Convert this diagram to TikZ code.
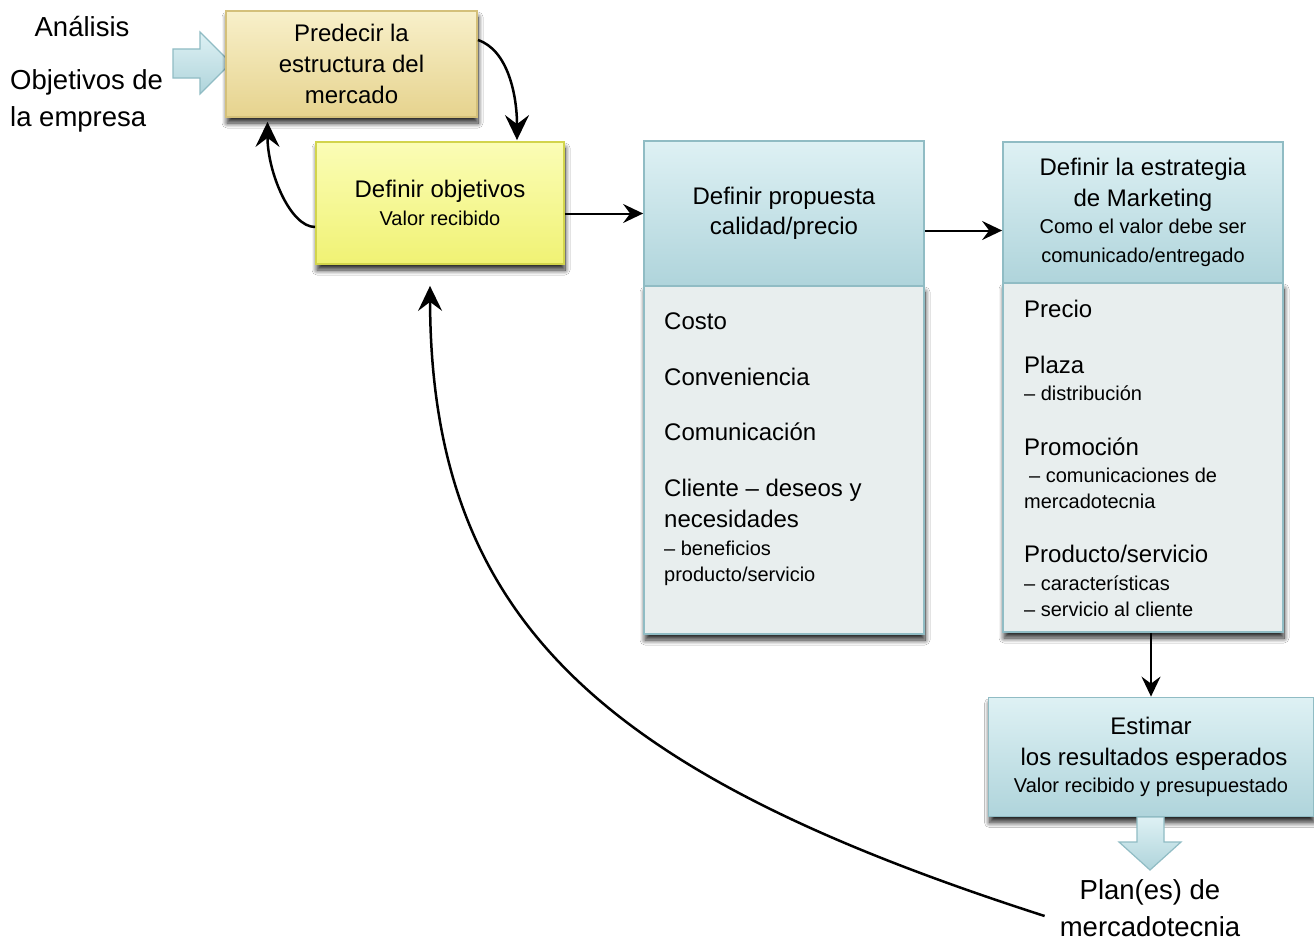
\documentclass[tikz,border=0pt]{standalone}
\usepackage{fontspec}
\setmainfont{Liberation Sans}
\usetikzlibrary{arrows.meta,shadows.blur}

\definecolor{sandTop}{HTML}{F8F0CA}
\definecolor{sandBot}{HTML}{E6D38E}
\definecolor{sandLine}{HTML}{D4C07A}
\definecolor{limeTop}{HTML}{FBFDB6}
\definecolor{limeBot}{HTML}{F0F274}
\definecolor{limeLine}{HTML}{D2D44C}
\definecolor{aquaTop}{HTML}{DEF1F4}
\definecolor{aquaBot}{HTML}{AFD4DB}
\definecolor{aquaLine}{HTML}{90BCC4}
\definecolor{paleBody}{HTML}{E8EEEE}

\tikzset{
  shadowed/.style={blur shadow={shadow xshift=1pt,shadow yshift=-6pt,
      shadow blur radius=5pt,shadow opacity=85,shadow blur steps=12}},
  bigfont/.style={font=\fontsize{24}{31}\selectfont},
  smallfont/.style={font=\fontsize{20}{27}\selectfont},
  labelfont/.style={font=\fontsize{27.5}{37}\selectfont},
  sandbox/.style={shadowed,draw=sandLine,line width=1.8pt,top color=sandTop,
      bottom color=sandBot,inner sep=0pt,align=center,bigfont},
  limebox/.style={shadowed,draw=limeLine,line width=1.8pt,top color=limeTop,
      bottom color=limeBot,inner sep=0pt,align=center,bigfont},
  aquahead/.style={draw=aquaLine,line width=1.8pt,top color=aquaTop,
      bottom color=aquaBot,inner sep=0pt,align=center,bigfont},
  aquabody/.style={shadowed,draw=aquaLine,line width=1.8pt,fill=paleBody,inner sep=0pt},
  item/.style={anchor=base west,inner sep=0pt,bigfont},
  subitem/.style={anchor=base west,inner sep=0pt,smallfont},
  conn/.style={line width=2pt,-{Stealth[length=20pt,width=19pt,inset=7pt]}},
  loopconn/.style={line width=2.5pt,-{Stealth[length=25pt,width=24pt,inset=9pt]}},
  blockarrow/.style={draw=aquaLine,line width=1.2pt,top color=aquaTop,bottom color=aquaBot},
}

\begin{document}
\begin{tikzpicture}[x=1pt,y=-1pt]
\useasboundingbox[fill=white] (0,0) rectangle (1314,942);

% side labels
\node[labelfont,inner sep=0pt,anchor=base] (analisis) at (82,37) {Análisis};
\node[labelfont,inner sep=0pt,anchor=base west] (objA) at (10,89) {Objetivos de};
\node[labelfont,inner sep=0pt,anchor=base west] (objB) at (10,126) {la empresa};

% input block arrow
\path[blockarrow] (173,49) -- (200,49) -- (200,32) -- (231,63) -- (200,94)
  -- (200,78) -- (173,78) -- cycle;

% upper boxes
\node[sandbox,minimum width=251,minimum height=106] (pred) at (351.5,64)
  {Predecir la\\estructura del\\mercado};
\node[limebox,minimum width=248,minimum height=122] (obj) at (440,203)
  {Definir objetivos\\[-3pt]{\fontsize{20}{27}\selectfont Valor recibido}};

% value proposition column
\node[aquabody,minimum width=280,minimum height=348] (propbody) at (784,460) {};
\node[aquahead,minimum width=280,minimum height=145] (prophead) at (784,213.5)
  {Definir propuesta\\[-1pt]calidad/precio};
\node[item] (c1) at (664,329) {Costo};
\node[item] (c2) at (664,385) {Conveniencia};
\node[item] (c3) at (664,440) {Comunicación};
\node[item] (c4) at (664,496) {Cliente – deseos y};
\node[item] (c5) at (664,527) {necesidades};
\node[subitem] (c6) at (664,555) {– beneficios};
\node[subitem] (c7) at (664,581) {producto/servicio};

% marketing strategy column
\node[aquabody,minimum width=280,minimum height=349] (estbody) at (1143,457.5) {};
\node[aquahead,minimum width=280,minimum height=141] (esthead) at (1143,212.5)
  {Definir la estrategia\\de Marketing\\[-4pt]%
   {\fontsize{20}{27}\selectfont Como el valor debe ser}\\[-2pt]
   {\fontsize{20}{27}\selectfont comunicado/entregado}};
\node[item] (e1) at (1024,317) {Precio};
\node[item] (e2) at (1024,373) {Plaza};
\node[subitem] (e3) at (1024,400) {– distribución};
\node[item] (e4) at (1024,455) {Promoción};
\node[subitem] (e5) at (1024,482) {\hspace{5pt}– comunicaciones de};
\node[subitem] (e6) at (1024,508) {mercadotecnia};
\node[item] (e7) at (1024,562) {Producto/servicio};
\node[subitem] (e8) at (1024,590) {– características};
\node[subitem] (e9) at (1024,616) {– servicio al cliente};

% results box
\node[shadowed,aquahead,minimum width=325,minimum height=119] (estim) at (1151,757)
  {Estimar\\\hspace{6pt}los resultados esperados\\[-4pt]%
   {\fontsize{20}{27}\selectfont Valor recibido y presupuestado}};

% output block arrow
\path[blockarrow] (1137,817) -- (1164,817) -- (1164,842) -- (1181,842)
  -- (1150,870) -- (1119,842) -- (1137,842) -- cycle;

\node[labelfont,inner sep=0pt,align=center] (plan) at (1150,908)
  {Plan(es) de\\mercadotecnia};

% connectors
\draw[loopconn] ([yshift=24pt]pred.east) .. controls +(30,10) and +(0,-45)
  .. ([xshift=77pt,yshift=1pt]obj.north);
\draw[loopconn] ([yshift=-24pt]obj.west) .. controls +(-25,0) and +(0,50)
  .. ([xshift=-84pt,yshift=-4pt]pred.south);
\draw[conn] (obj.east |- prophead.west) -- (prophead.west);
\draw[conn] ([yshift=-17pt]prophead.east) -- ([yshift=-17pt]prophead.east -| esthead.west);
\draw[conn] (estim.north |- estbody.south) -- (estim.north);
\draw[loopconn] ([xshift=-15pt,yshift=-8pt]plan.west) .. controls +(-435,-140) and +(1,340)
  .. ([xshift=-10pt,yshift=-21pt]obj.south);
\end{tikzpicture}
\end{document}
